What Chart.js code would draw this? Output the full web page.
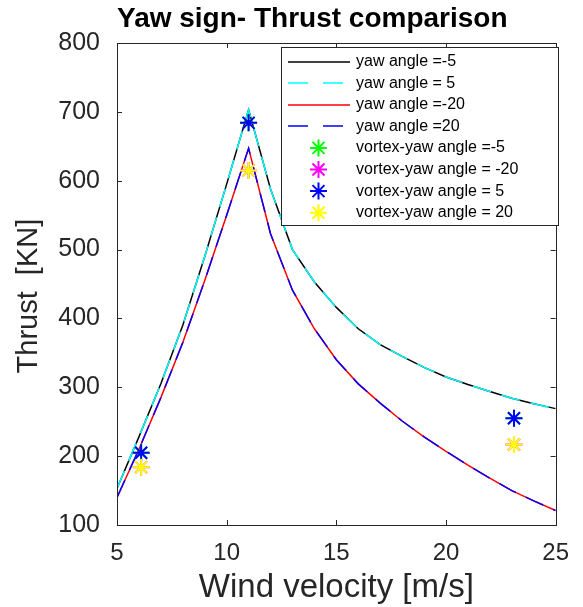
<!DOCTYPE html>
<html>
<head>
<meta charset="utf-8">
<script src="https://cdn.jsdelivr.net/npm/chart.js@4.4.0/dist/chart.umd.min.js"></script>
<style>
  html, body { margin: 0; padding: 0; background: #fff; }
  #chart { display: block; }
</style>
</head>
<body>
<canvas id="chart" width="583" height="607"></canvas>
<script>
// wind speeds of the steady runs [m/s]
const windSpeed = [5, 6, 7, 8, 9, 10, 11, 12, 13, 14, 15, 16, 17, 18, 19, 20, 21, 22, 23, 24, 25];
// rotor thrust [kN] for each yaw setting
const thrustYawM5  = [153, 228, 305, 390, 490, 595, 703, 588, 500, 453, 416, 385, 362, 345, 329, 315, 304, 294, 284, 276, 269];
const thrustYawP5  = [153, 228, 305, 390, 490, 595, 703, 588, 500, 453, 416, 385, 362, 345, 329, 315, 304, 294, 284, 276, 269];
const thrustYawM20 = [140, 210, 285, 365, 455, 550, 647, 523, 441, 385, 340, 305, 277, 251, 228, 207, 187, 168, 150, 135, 121];
const thrustYawP20 = [140, 210, 285, 365, 455, 550, 647, 523, 441, 385, 340, 305, 277, 251, 228, 207, 187, 168, 150, 135, 121];
// free vortex wake results
const vortexWind   = [6.1, 11, 23.1];
const vortexYawM5  = [205, 684, 255];
const vortexYawM20 = [184, 615, 217];
const vortexYawP5  = [205, 684, 255];
const vortexYawP20 = [184, 615, 217];
// axis ticks
const xTicks = [5, 10, 15, 20, 25];
const yTicks = [100, 200, 300, 400, 500, 600, 700, 800];

const axisColor = '#262626';
const pts = (xs, ys) => xs.map((x, i) => ({ x: x, y: ys[i] }));

function lineSet(label, ys, color, dash, legendDash, order) {
  return {
    label: label, data: pts(windSpeed, ys), order: order,
    borderColor: color, backgroundColor: color, borderWidth: 1.5,
    borderDash: dash, legendDash: legendDash,
    pointRadius: 0, fill: false, tension: 0, showLine: true
  };
}

function starSet(label, ys, color, order) {
  return {
    label: label, data: pts(vortexWind, ys), order: order, showLine: false,
    borderColor: color, backgroundColor: color,
    pointStyle: 'star', pointRadius: 8.5, pointBorderWidth: 2,
    pointBorderColor: color, pointBackgroundColor: color
  };
}

// MATLAB style box: frame with inward ticks on every side
const boxTicks = {
  id: 'boxTicks',
  afterDatasetsDraw(chart) {
    const { ctx, chartArea: a, scales: { x, y } } = chart;
    const len = 5;
    ctx.save();
    ctx.strokeStyle = axisColor;
    ctx.lineWidth = 1;
    ctx.beginPath();
    x.ticks.forEach(t => {
      const px = Math.round(x.getPixelForValue(t.value)) + 0.5;
      ctx.moveTo(px, a.bottom); ctx.lineTo(px, a.bottom - len);
      ctx.moveTo(px, a.top); ctx.lineTo(px, a.top + len);
    });
    y.ticks.forEach(t => {
      const py = Math.round(y.getPixelForValue(t.value)) + 0.5;
      ctx.moveTo(a.left, py); ctx.lineTo(a.left + len, py);
      ctx.moveTo(a.right, py); ctx.lineTo(a.right - len, py);
    });
    ctx.stroke();
    ctx.strokeRect(Math.round(a.left) + 0.5, Math.round(a.top) + 0.5,
                   Math.round(a.width), Math.round(a.height));
    ctx.restore();
  }
};

// legend box in the upper right corner of the axes
const boxLegend = {
  id: 'boxLegend',
  afterDraw(chart) {
    const { ctx } = chart;
    const left = 281, top = 47, right = 558, bottom = 225;
    const rowY = 61.5, rowH = 21.6, starX = 318.5, starR = 8.5;
    ctx.save();
    ctx.fillStyle = '#ffffff';
    ctx.fillRect(left, top, right - left, bottom - top);
    ctx.strokeStyle = axisColor;
    ctx.lineWidth = 1;
    ctx.strokeRect(left + 0.5, top + 0.5, right - left, bottom - top);
    ctx.font = '16px "Liberation Sans", Arial, sans-serif';
    ctx.textBaseline = 'middle';
    ctx.textAlign = 'left';
    chart.data.datasets.forEach((ds, i) => {
      const yy = rowY + i * rowH;
      ctx.strokeStyle = ds.borderColor;
      if (ds.pointStyle === 'star') {
        ctx.lineWidth = 2;
        ctx.beginPath();
        for (let k = 0; k < 4; k++) {
          const ang = k * Math.PI / 4;
          const dx = Math.cos(ang) * starR, dy = Math.sin(ang) * starR;
          ctx.moveTo(starX - dx, yy - dy);
          ctx.lineTo(starX + dx, yy + dy);
        }
        ctx.stroke();
      } else {
        ctx.lineWidth = 1.5;
        ctx.setLineDash(ds.legendDash);
        ctx.beginPath();
        ctx.moveTo(288, Math.round(yy));
        ctx.lineTo(350, Math.round(yy));
        ctx.stroke();
        ctx.setLineDash([]);
      }
      ctx.fillStyle = '#000000';
      ctx.fillText(ds.label, 356, yy);
    });
    ctx.restore();
  }
};

new Chart(document.getElementById('chart'), {
  type: 'line',
  data: {
    datasets: [
      lineSet('yaw angle =-5', thrustYawM5, '#000000', [], [], 8),
      lineSet('yaw angle = 5', thrustYawP5, '#00ffff', [19, 11], [20, 15], 7),
      lineSet('yaw angle =-20', thrustYawM20, '#ff0000', [], [], 6),
      lineSet('yaw angle =20', thrustYawP20, '#0000ff', [19, 11], [20, 15], 5),
      starSet('vortex-yaw angle =-5', vortexYawM5, '#00ff00', 4),
      starSet('vortex-yaw angle = -20', vortexYawM20, '#ff00ff', 3),
      starSet('vortex-yaw angle = 5', vortexYawP5, '#0000ff', 2),
      starSet('vortex-yaw angle = 20', vortexYawP20, '#ffff00', 1)
    ]
  },
  options: {
    responsive: false,
    animation: false,
    devicePixelRatio: 1,
    layout: { padding: { left: 0, right: 18, top: 0, bottom: 0 } },
    plugins: {
      legend: { display: false },
      tooltip: { enabled: false },
      title: {
        display: true,
        text: 'Yaw sign- Thrust comparison',
        align: 'start',
        fullSize: false,
        color: '#000000',
        font: { family: 'Liberation Sans', size: 28, weight: 'bold' },
        padding: { top: 2, bottom: 7.4 }
      }
    },
    scales: {
      x: {
        type: 'linear', min: 5, max: 25,
        afterBuildTicks: s => { s.ticks = xTicks.map(v => ({ value: v })); },
        afterFit: s => { s.height = 82; },
        grid: { display: false, drawTicks: false },
        border: { display: false },
        ticks: {
          color: axisColor, padding: 14, maxRotation: 0,
          font: { family: 'Liberation Sans', size: 24 }
        },
        title: {
          display: true, text: 'Wind velocity [m/s]', color: axisColor,
          font: { family: 'Liberation Sans', size: 33 },
          padding: { top: 0, bottom: -1 }
        }
      },
      y: {
        type: 'linear', min: 100, max: 800,
        afterBuildTicks: s => { s.ticks = yTicks.map(v => ({ value: v })); },
        afterFit: s => { s.width = 117; },
        grid: { display: false, drawTicks: false },
        border: { display: false },
        ticks: {
          color: axisColor, padding: 17,
          font: { family: 'Liberation Sans', size: 25 }
        },
        title: {
          display: true, text: 'Thrust  [KN]   ', color: axisColor,
          font: { family: 'Liberation Sans', size: 29 },
          padding: { top: 12, bottom: 0 }
        }
      }
    }
  },
  plugins: [boxTicks, boxLegend]
});
</script>
</body>
</html>
